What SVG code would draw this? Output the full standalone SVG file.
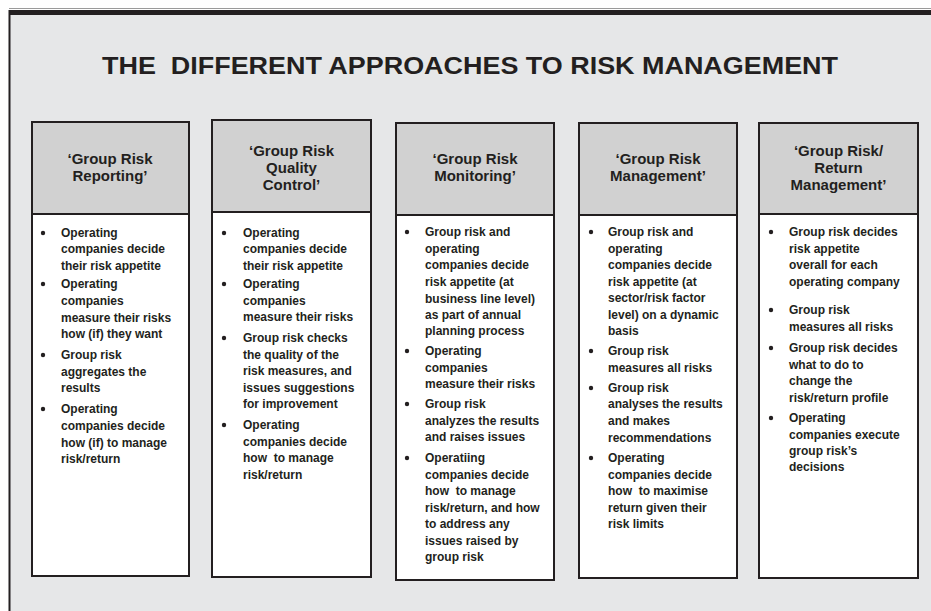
<svg xmlns="http://www.w3.org/2000/svg" width="931" height="611" viewBox="0 0 931 611">
<style>
.panel{fill:#e6e7e8}
.hdr{fill:#d1d1d1;stroke:#231f20;stroke-width:2}
.body{fill:#ffffff;stroke:#231f20;stroke-width:2}
.title{font-family:"Liberation Sans",Arial,sans-serif;font-weight:bold;font-size:24px;fill:#231f20}
.ht{font-family:"Liberation Sans",Arial,sans-serif;font-weight:bold;font-size:15px;fill:#231f20;text-anchor:middle}
.bt{font-family:"Liberation Sans",Arial,sans-serif;font-weight:bold;font-size:12px;fill:#231f20}
.dot{fill:#231f20}
</style>
<rect x="0" y="0" width="931" height="611" fill="#ffffff"/>
<rect class="panel" x="9" y="10" width="922" height="601"/>
<line x1="9" y1="8.5" x2="931" y2="8.5" stroke="#9a9a9a" stroke-width="1"/>
<rect x="9" y="10" width="922" height="5" fill="#231f20"/>
<line x1="9.5" y1="10" x2="9.5" y2="611" stroke="#231f20" stroke-width="2"/>
<text class="title" x="102" y="74" textLength="736" lengthAdjust="spacingAndGlyphs" xml:space="preserve">THE  DIFFERENT APPROACHES TO RISK MANAGEMENT</text>
<g id="connectors"/>
<g id="col1">
<rect class="body" x="32" y="214" width="157" height="362"/>
<rect class="hdr" x="32" y="122" width="157" height="92"/>
<text class="ht" x="110" y="164">‘Group Risk</text>
<text class="ht" x="110" y="181">Reporting’</text>
<g class="bt">
<circle class="dot" cx="43" cy="233" r="2.2"/>
<text x="61" y="237">Operating</text>
<text x="61" y="253">companies decide</text>
<text x="61" y="269.5">their risk appetite</text>
<circle class="dot" cx="43" cy="284" r="2.2"/>
<text x="61" y="288">Operating</text>
<text x="61" y="304.5">companies</text>
<text x="61" y="321.5">measure their risks</text>
<text x="61" y="338">how (if) they want</text>
<circle class="dot" cx="43" cy="355" r="2.2"/>
<text x="61" y="359">Group risk</text>
<text x="61" y="375.5">aggregates the</text>
<text x="61" y="392">results</text>
<circle class="dot" cx="43" cy="409" r="2.2"/>
<text x="61" y="413">Operating</text>
<text x="61" y="430">companies decide</text>
<text x="61" y="446.5">how (if) to manage</text>
<text x="61" y="462.5">risk/return</text>
</g>
</g>
<g id="col2">
<rect class="body" x="212" y="212" width="159" height="365"/>
<rect class="hdr" x="212" y="120" width="159" height="92"/>
<text class="ht" x="291.5" y="155.5">‘Group Risk</text>
<text class="ht" x="291.5" y="172.5">Quality</text>
<text class="ht" x="291.5" y="189.5">Control’</text>
<g class="bt">
<circle class="dot" cx="224" cy="233" r="2.2"/>
<text x="243" y="237">Operating</text>
<text x="243" y="253">companies decide</text>
<text x="243" y="269.5">their risk appetite</text>
<circle class="dot" cx="224" cy="284" r="2.2"/>
<text x="243" y="288">Operating</text>
<text x="243" y="304.5">companies</text>
<text x="243" y="321">measure their risks</text>
<circle class="dot" cx="224" cy="338" r="2.2"/>
<text x="243" y="342">Group risk checks</text>
<text x="243" y="358.5">the quality of the</text>
<text x="243" y="375">risk measures, and</text>
<text x="243" y="391.5">issues suggestions</text>
<text x="243" y="408">for improvement</text>
<circle class="dot" cx="224" cy="425" r="2.2"/>
<text x="243" y="429">Operating</text>
<text x="243" y="445.5">companies decide</text>
<text x="243" y="462" xml:space="preserve">how  to manage</text>
<text x="243" y="478.5">risk/return</text>
</g>
</g>
<g id="col3">
<rect class="body" x="396" y="215" width="158" height="365"/>
<rect class="hdr" x="396" y="123" width="158" height="92"/>
<text class="ht" x="475" y="164">‘Group Risk</text>
<text class="ht" x="475" y="181">Monitoring’</text>
<g class="bt">
<circle class="dot" cx="407" cy="232" r="2.2"/>
<text x="425" y="236">Group risk and</text>
<text x="425" y="252.5">operating</text>
<text x="425" y="269">companies decide</text>
<text x="425" y="285.5">risk appetite (at</text>
<text x="425" y="302.5">business line level)</text>
<text x="425" y="319">as part of annual</text>
<text x="425" y="335">planning process</text>
<circle class="dot" cx="407" cy="351" r="2.2"/>
<text x="425" y="355">Operating</text>
<text x="425" y="371.5">companies</text>
<text x="425" y="387.5">measure their risks</text>
<circle class="dot" cx="407" cy="404" r="2.2"/>
<text x="425" y="408">Group risk</text>
<text x="425" y="424.5">analyzes the results</text>
<text x="425" y="441">and raises issues</text>
<circle class="dot" cx="407" cy="458" r="2.2"/>
<text x="425" y="462">Operatiing</text>
<text x="425" y="478.5">companies decide</text>
<text x="425" y="495" xml:space="preserve">how  to manage</text>
<text x="425" y="511.5">risk/return, and how</text>
<text x="425" y="528">to address any</text>
<text x="425" y="544.5">issues raised by</text>
<text x="425" y="560.5">group risk</text>
</g>
</g>
<g id="col4">
<rect class="body" x="579" y="215" width="158" height="363"/>
<rect class="hdr" x="579" y="123" width="158" height="92"/>
<text class="ht" x="658" y="164">‘Group Risk</text>
<text class="ht" x="658" y="181">Management’</text>
<g class="bt">
<circle class="dot" cx="591" cy="232" r="2.2"/>
<text x="608" y="236">Group risk and</text>
<text x="608" y="252.5">operating</text>
<text x="608" y="269">companies decide</text>
<text x="608" y="285.5">risk appetite (at</text>
<text x="608" y="302">sector/risk factor</text>
<text x="608" y="318.5">level) on a dynamic</text>
<text x="608" y="335">basis</text>
<circle class="dot" cx="591" cy="351" r="2.2"/>
<text x="608" y="355">Group risk</text>
<text x="608" y="371.5">measures all risks</text>
<circle class="dot" cx="591" cy="388" r="2.2"/>
<text x="608" y="392">Group risk</text>
<text x="608" y="408">analyses the results</text>
<text x="608" y="424.5">and makes</text>
<text x="608" y="441.5">recommendations</text>
<circle class="dot" cx="591" cy="458" r="2.2"/>
<text x="608" y="462">Operating</text>
<text x="608" y="478.5">companies decide</text>
<text x="608" y="495" xml:space="preserve">how  to maximise</text>
<text x="608" y="511.5">return given their</text>
<text x="608" y="528">risk limits</text>
</g>
</g>
<g id="col5">
<rect class="body" x="759" y="214" width="159" height="364"/>
<rect class="hdr" x="759" y="123" width="159" height="91"/>
<text class="ht" x="838.5" y="155.5">‘Group Risk/</text>
<text class="ht" x="838.5" y="172.5">Return</text>
<text class="ht" x="838.5" y="189.5">Management’</text>
<g class="bt">
<circle class="dot" cx="771" cy="232" r="2.2"/>
<text x="789" y="236">Group risk decides</text>
<text x="789" y="252.5">risk appetite</text>
<text x="789" y="269">overall for each</text>
<text x="789" y="285.5">operating company</text>
<circle class="dot" cx="771" cy="310" r="2.2"/>
<text x="789" y="314">Group risk</text>
<text x="789" y="330.5">measures all risks</text>
<circle class="dot" cx="771" cy="348" r="2.2"/>
<text x="789" y="352">Group risk decides</text>
<text x="789" y="368.5">what to do to</text>
<text x="789" y="385">change the</text>
<text x="789" y="401.5">risk/return profile</text>
<circle class="dot" cx="771" cy="418" r="2.2"/>
<text x="789" y="422">Operating</text>
<text x="789" y="438.5">companies execute</text>
<text x="789" y="455">group risk’s</text>
<text x="789" y="471">decisions</text>
</g>
</g>
</svg>
